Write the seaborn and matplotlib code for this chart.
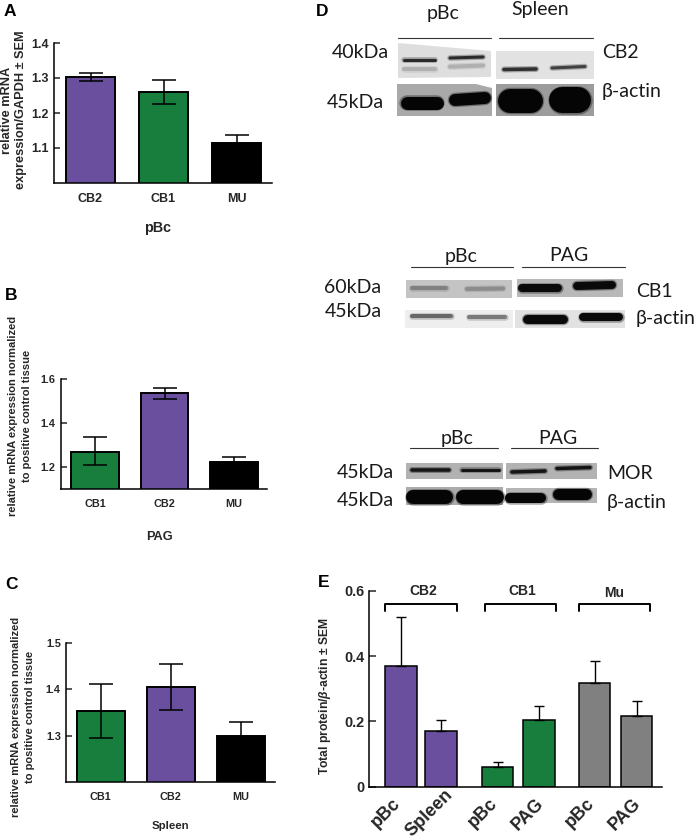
# plot.py
# Multi panel figure: mRNA bars (A-C), western blots (D), protein bars (E)

import matplotlib
matplotlib.use("Agg")
import matplotlib.pyplot as plt
from matplotlib.patches import Polygon
from matplotlib.transforms import ScaledTranslation
import seaborn as sns

# panel A
a_names = ["CB2", "CB1", "MU"]
a_means = [1.302, 1.26, 1.115]
a_high = [1.315, 1.295, 1.137]
a_low = [1.29, 1.226, 1.093]
a_ticks = [1.1, 1.2, 1.3, 1.4]

# panel B
b_names = ["CB1", "CB2", "MU"]
b_means = [1.27, 1.536, 1.224]
b_high = [1.335, 1.56, 1.245]
b_low = [1.207, 1.51, 1.203]
b_ticks = [1.2, 1.4, 1.6]

# panel C
c_names = ["CB1", "CB2", "MU"]
c_means = [1.353, 1.405, 1.299]
c_high = [1.411, 1.454, 1.329]
c_low = [1.295, 1.356, 1.269]
c_ticks = [1.3, 1.4, 1.5]

# panel E
e_labels = ["pBc", "Spleen", "pBc", "PAG", "pBc", "PAG"]
e_groups = ["CB2", "CB2", "CB1", "CB1", "Mu", "Mu"]
e_means = [0.371, 0.17, 0.061, 0.203, 0.318, 0.216]
e_high = [0.52, 0.206, 0.077, 0.248, 0.385, 0.264]
e_ticks = [0, 0.2, 0.4, 0.6]
e_tick_labels = ["0", "0.2", "0.4", "0.6"]

PURPLE = "#6a4f9f"
GREEN = "#187e3e"
colors = {"CB2": PURPLE, "CB1": GREEN, "MU": "black", "Mu": "#808080"}

W, H = 700, 838
sns.set_theme(style="ticks")
plt.rcParams["font.family"] = ["Liberation Sans", "DejaVu Sans"]
plt.rcParams["font.weight"] = "bold"
plt.rcParams["axes.labelweight"] = "bold"
plt.rcParams["mathtext.fontset"] = "custom"
plt.rcParams["mathtext.it"] = "Liberation Sans:italic:bold"
plt.rcParams["mathtext.rm"] = "Liberation Sans:bold"

fig = plt.figure(figsize=(W / 100, H / 100), dpi=100, facecolor="white")

# overlay in pixel coordinates, used for the blots and free text
over = fig.add_axes([0, 0, 1, 1], zorder=5)
over.set_xlim(0, W)
over.set_ylim(H, 0)
over.axis("off")


def px_axes(x0, y0, x1, y1):
    return fig.add_axes([x0 / W, 1 - y1 / H, (x1 - x0) / W, (y1 - y0) / H])


def style_axis(ax, lw, ticklen, size, pad):
    sns.despine(ax=ax)
    for side in ["left", "bottom"]:
        ax.spines[side].set_linewidth(lw)
        ax.spines[side].set_color("black")
    ax.tick_params(axis="y", direction="in", length=ticklen, width=lw, labelsize=size, pad=pad)
    ax.set_facecolor("none")


def mrna_panel(box, centers, ylim, names, means, high, low, ticks, size, edge_w):
    ax = px_axes(*box)
    sns.barplot(x=names, y=means, hue=names, palette=colors, width=edge_w, saturation=1,
                edgecolor="black", linewidth=1.4, errorbar=None, legend=False, ax=ax)
    for i in range(len(names)):
        ax.errorbar(i, means[i], yerr=[[means[i] - low[i]], [high[i] - means[i]]], color="black",
                    elinewidth=1.1, capsize=8.7, capthick=1.1, zorder=4)
    step = centers[1] - centers[0]
    ax.set_xlim((box[0] - centers[0]) / step, (box[2] - centers[0]) / step)
    ax.set_ylim(*ylim)
    ax.set_yticks(ticks, [f"{t:.1f}" for t in ticks])
    style_axis(ax, 1.1, 4.3, size, 3.5)
    ax.tick_params(axis="x", length=0, labelsize=size, pad=7)
    ax.set_ylabel("")
    return ax


# bar panels
ax_a = mrna_panel((53.5, 43, 272, 183), (90.5, 163.5), (1.0, 1.4), a_names, a_means, a_high, a_low,
                  a_ticks, 9, 0.67)
ax_b = mrna_panel((60.5, 379, 267, 489), (95, 164.5), (1.1, 1.6), b_names, b_means, b_high, b_low,
                  b_ticks, 7.8, 0.69)
ax_c = mrna_panel((65.7, 642.7, 275, 782), (100.7, 170.7), (1.2, 1.5), c_names, c_means, c_high, c_low,
                  c_ticks, 7.8, 0.68)

ax_a.set_ylabel("relative mRNA\nexpression/GAPDH ± SEM", fontsize=9.2, linespacing=1.3, va="center")
ax_a.yaxis.set_label_coords(14, 110, transform=over.transData)
ax_a.set_xlabel("pBc", fontsize=10.4, va="center")
ax_a.xaxis.set_label_coords(157.7, 228, transform=over.transData)

ax_b.set_ylabel("relative mRNA expression normalized\nto positive control tissue", fontsize=8,
                linespacing=1.6, va="center")
ax_b.yaxis.set_label_coords(20, 416, transform=over.transData)
ax_b.set_xlabel("PAG", fontsize=9.2, va="center")
ax_b.xaxis.set_label_coords(159, 536.7, transform=over.transData)

ax_c.set_ylabel("relative mRNA expression normalized\nto positive control tissue", fontsize=8,
                linespacing=1.6, va="center")
ax_c.yaxis.set_label_coords(23, 717, transform=over.transData)
ax_c.set_xlabel("Spleen", fontsize=8.2, va="center")
ax_c.xaxis.set_label_coords(170, 826, transform=over.transData)

# panel E, x axis in pixel units because the bars are not evenly spaced
e_x = [401, 441, 497.5, 539, 594.5, 636.7]
ax_e = px_axes(369, 591, 662.3, 786.7)
sns.barplot(x=e_x, y=e_means, hue=e_groups, palette=colors, native_scale=True, dodge=False, width=0.78,
            saturation=1, edgecolor="black", linewidth=1.1, errorbar=None, legend=False, ax=ax_e)
for xpos, m, top in zip(e_x, e_means, e_high):
    ax_e.errorbar(xpos, m, yerr=[[0], [top - m]], color="black", elinewidth=1.0, capsize=3.6,
                  capthick=1.0, zorder=4)
ax_e.set_xlim(369, 662.3)
ax_e.set_ylim(0, 0.6)
ax_e.set_yticks(e_ticks, e_tick_labels)
ax_e.set_xticks(e_x, e_labels, rotation=45, ha="right", rotation_mode="anchor")
style_axis(ax_e, 1.1, 4.8, 10.4, 3.5)
ax_e.tick_params(axis="x", length=0, labelsize=13, pad=6)
nudges = {"pBc": (-9, 0), "Spleen": (3, 9), "PAG": (-4, 0)}
for lab in ax_e.get_xticklabels():
    # nudge the rotated labels, Spleen sits higher than the rest
    dx, dy = nudges[lab.get_text()]
    lab.set_transform(lab.get_transform() + ScaledTranslation(dx / 100, dy / 100, fig.dpi_scale_trans))
ax_e.set_ylabel(r"Total protein/$\mathit{\beta}$-actin ± SEM", fontsize=8.7, va="center")
ax_e.yaxis.set_label_coords(325, 696, transform=over.transData)

# brackets above the groups in E
for left, right, name, label_x, label_y in [(385, 457, "CB2", 422.7, 0.6), (485, 555.7, "CB1", 522, 0.6),
                                            (579, 650, "Mu", 614, 0.595)]:
    ax_e.plot([left, left, right, right], [0.539, 0.56, 0.56, 0.539], color="black", lw=1.4,
              solid_joinstyle="round", clip_on=False)
    ax_e.text(label_x, label_y, name, ha="center", va="center", fontsize=10, clip_on=False)


# western blots
def blot(outline, shade, bands):
    over.add_patch(Polygon(outline, closed=True, facecolor=shade, edgecolor="none"))
    for x0, y0, x1, y1, thick, tone in bands:
        over.plot([x0, x1], [y0, y1], color=tone, lw=(thick + 2.5) * 0.72, alpha=0.35,
                  solid_capstyle="round")
        over.plot([x0, x1], [y0, y1], color=tone, lw=thick * 0.72, solid_capstyle="round")


def box(x0, y0, x1, y1):
    return [(x0, y0), (x1, y0), (x1, y1), (x0, y1)]


blot([(398, 43), (491, 51), (491, 77), (398, 78)], "#dedede",
     [(404, 69.5, 435, 69.5, 4, "#b0b0b0"), (450, 66.7, 483, 65.5, 4, "#b0b0b0"),
      (404, 60, 435, 60, 3, "#2a2a2a"), (450, 58, 483, 57, 3, "#2a2a2a")])
blot(box(496, 51, 594, 79), "#e2e2e2",
     [(504, 69.5, 536, 69, 3.5, "#303030"), (552, 68, 585, 66.5, 3, "#404040")])
blot([(397, 84), (476, 84), (492, 88), (492, 116), (397, 116)], "#a9a9a9",
     [(407, 103, 437, 103, 13, "#050505"), (455, 100, 485, 98, 12, "#050505")])
blot(box(496, 84, 594, 116), "#9c9c9c",
     [(510, 101, 531, 101, 24, "#050505"), (562, 100, 578, 100, 26, "#050505")])

blot(box(406, 280, 512, 298), "#c4c4c4",
     [(412, 288, 446, 288, 4, "#808080"), (467, 289, 503, 288.5, 4, "#8c8c8c")])
blot(box(517, 279, 623, 297), "#b8b8b8",
     [(522, 288, 558, 288, 8, "#0a0a0a"), (577, 286, 612, 285, 8, "#0a0a0a")])
blot(box(405, 310, 513, 328), "#eeeeee",
     [(412, 316, 451, 316, 4, "#6a6a6a"), (469, 317, 505, 317, 4, "#7a7a7a")])
blot(box(515, 310, 625, 328), "#e2e2e2",
     [(527, 319, 563, 319, 9, "#0a0a0a"), (583, 317, 619, 317, 8, "#0a0a0a")])

blot(box(406, 463, 503, 479), "#b2b2b2",
     [(412, 470, 449, 470, 3.5, "#151515"), (462, 470, 499, 470, 3, "#151515")])
blot(box(506, 463, 597, 479), "#b2b2b2",
     [(512, 472, 545, 471, 3.5, "#151515"), (557, 468.5, 590, 467.5, 3.5, "#151515")])
blot(box(406, 487, 503, 505), "#ababab",
     [(413, 497, 446, 497, 14, "#050505"), (463, 497, 497, 497, 14, "#050505")])
blot(box(506, 488, 597, 503), "#b5b5b5",
     [(510, 498, 541, 498, 10, "#050505"), (558, 494, 586, 494, 11, "#050505")])

# lines above the blots
for x0, x1, y in [(398, 491, 37.7), (499, 593, 38), (411, 513, 267), (522, 625, 267),
                  (410, 498, 448), (511, 598, 448)]:
    over.plot([x0, x1], [y, y], color="#333333", lw=0.8)

# blot labels
blot_text = [("pBc", 443, 13, "center"), ("Spleen", 540, 10, "center"), ("40kDa", 360, 53, "center"),
             ("45kDa", 355, 102, "center"), ("CB2", 602, 52, "left"), ("β-actin", 602, 92, "left"),
             ("pBc", 461, 256, "center"), ("PAG", 569, 255, "center"), ("60kDa", 353, 287, "center"),
             ("45kDa", 353, 311, "center"), ("CB1", 636, 291, "left"), ("β-actin", 636, 318, "left"),
             ("pBc", 457, 438, "center"), ("PAG", 558, 438, "center"), ("45kDa", 365, 472, "center"),
             ("45kDa", 365, 500, "center"), ("MOR", 607, 473, "left"), ("β-actin", 607, 502, "left")]
for txt, x, y, align in blot_text:
    over.text(x, y, txt, ha=align, va="center", fontsize=14, family=["Lato", "DejaVu Sans"],
              fontweight="normal", color="#1a1a1a")

# panel letters
for letter, x, y in [("A", 4, 12), ("B", 5, 295), ("C", 5, 584), ("D", 316, 12), ("E", 318, 582)]:
    over.text(x, y, letter, ha="left", va="center", fontsize=12.5, color="black")

fig.savefig("out.png", dpi=100)
